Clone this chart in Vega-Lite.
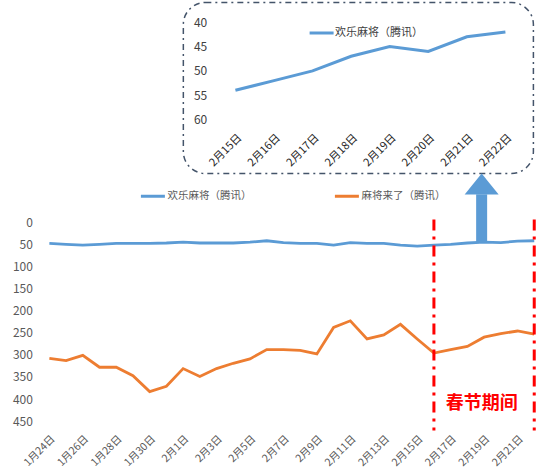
{
  "$schema": "https://vega.github.io/schema/vega-lite/v6.json",
  "padding": {"left": 12, "top": 1.5, "right": 0, "bottom": 0},
  "datasets": {
    "ranks": [
      {"date": "2018-01-24T00:00", "series": "欢乐麻将（腾讯）", "rank": 48},
      {"date": "2018-01-25T00:00", "series": "欢乐麻将（腾讯）", "rank": 50},
      {"date": "2018-01-26T00:00", "series": "欢乐麻将（腾讯）", "rank": 52},
      {"date": "2018-01-27T00:00", "series": "欢乐麻将（腾讯）", "rank": 50},
      {"date": "2018-01-28T00:00", "series": "欢乐麻将（腾讯）", "rank": 48},
      {"date": "2018-01-29T00:00", "series": "欢乐麻将（腾讯）", "rank": 48},
      {"date": "2018-01-30T00:00", "series": "欢乐麻将（腾讯）", "rank": 48},
      {"date": "2018-01-31T00:00", "series": "欢乐麻将（腾讯）", "rank": 47},
      {"date": "2018-02-01T00:00", "series": "欢乐麻将（腾讯）", "rank": 45},
      {"date": "2018-02-02T00:00", "series": "欢乐麻将（腾讯）", "rank": 47},
      {"date": "2018-02-03T00:00", "series": "欢乐麻将（腾讯）", "rank": 47},
      {"date": "2018-02-04T00:00", "series": "欢乐麻将（腾讯）", "rank": 47},
      {"date": "2018-02-05T00:00", "series": "欢乐麻将（腾讯）", "rank": 45},
      {"date": "2018-02-06T00:00", "series": "欢乐麻将（腾讯）", "rank": 42},
      {"date": "2018-02-07T00:00", "series": "欢乐麻将（腾讯）", "rank": 46},
      {"date": "2018-02-08T00:00", "series": "欢乐麻将（腾讯）", "rank": 48},
      {"date": "2018-02-09T00:00", "series": "欢乐麻将（腾讯）", "rank": 48},
      {"date": "2018-02-10T00:00", "series": "欢乐麻将（腾讯）", "rank": 52},
      {"date": "2018-02-11T00:00", "series": "欢乐麻将（腾讯）", "rank": 46},
      {"date": "2018-02-12T00:00", "series": "欢乐麻将（腾讯）", "rank": 48},
      {"date": "2018-02-13T00:00", "series": "欢乐麻将（腾讯）", "rank": 48},
      {"date": "2018-02-14T00:00", "series": "欢乐麻将（腾讯）", "rank": 52},
      {"date": "2018-02-15T00:00", "series": "欢乐麻将（腾讯）", "rank": 54},
      {"date": "2018-02-16T00:00", "series": "欢乐麻将（腾讯）", "rank": 52},
      {"date": "2018-02-17T00:00", "series": "欢乐麻将（腾讯）", "rank": 50},
      {"date": "2018-02-18T00:00", "series": "欢乐麻将（腾讯）", "rank": 47},
      {"date": "2018-02-19T00:00", "series": "欢乐麻将（腾讯）", "rank": 45},
      {"date": "2018-02-20T00:00", "series": "欢乐麻将（腾讯）", "rank": 46},
      {"date": "2018-02-21T00:00", "series": "欢乐麻将（腾讯）", "rank": 43},
      {"date": "2018-02-22T00:00", "series": "欢乐麻将（腾讯）", "rank": 42},
      {"date": "2018-01-24T00:00", "series": "麻将来了（腾讯）", "rank": 308},
      {"date": "2018-01-25T00:00", "series": "麻将来了（腾讯）", "rank": 313},
      {"date": "2018-01-26T00:00", "series": "麻将来了（腾讯）", "rank": 301},
      {"date": "2018-01-27T00:00", "series": "麻将来了（腾讯）", "rank": 328},
      {"date": "2018-01-28T00:00", "series": "麻将来了（腾讯）", "rank": 328},
      {"date": "2018-01-29T00:00", "series": "麻将来了（腾讯）", "rank": 347},
      {"date": "2018-01-30T00:00", "series": "麻将来了（腾讯）", "rank": 383},
      {"date": "2018-01-31T00:00", "series": "麻将来了（腾讯）", "rank": 371},
      {"date": "2018-02-01T00:00", "series": "麻将来了（腾讯）", "rank": 331},
      {"date": "2018-02-02T00:00", "series": "麻将来了（腾讯）", "rank": 349},
      {"date": "2018-02-03T00:00", "series": "麻将来了（腾讯）", "rank": 331},
      {"date": "2018-02-04T00:00", "series": "麻将来了（腾讯）", "rank": 319},
      {"date": "2018-02-05T00:00", "series": "麻将来了（腾讯）", "rank": 309},
      {"date": "2018-02-06T00:00", "series": "麻将来了（腾讯）", "rank": 288},
      {"date": "2018-02-07T00:00", "series": "麻将来了（腾讯）", "rank": 288},
      {"date": "2018-02-08T00:00", "series": "麻将来了（腾讯）", "rank": 290},
      {"date": "2018-02-09T00:00", "series": "麻将来了（腾讯）", "rank": 298},
      {"date": "2018-02-10T00:00", "series": "麻将来了（腾讯）", "rank": 238},
      {"date": "2018-02-11T00:00", "series": "麻将来了（腾讯）", "rank": 223},
      {"date": "2018-02-12T00:00", "series": "麻将来了（腾讯）", "rank": 264},
      {"date": "2018-02-13T00:00", "series": "麻将来了（腾讯）", "rank": 255},
      {"date": "2018-02-14T00:00", "series": "麻将来了（腾讯）", "rank": 231},
      {"date": "2018-02-15T00:00", "series": "麻将来了（腾讯）", "rank": 264},
      {"date": "2018-02-16T00:00", "series": "麻将来了（腾讯）", "rank": 296},
      {"date": "2018-02-17T00:00", "series": "麻将来了（腾讯）", "rank": 288},
      {"date": "2018-02-18T00:00", "series": "麻将来了（腾讯）", "rank": 281},
      {"date": "2018-02-19T00:00", "series": "麻将来了（腾讯）", "rank": 260},
      {"date": "2018-02-20T00:00", "series": "麻将来了（腾讯）", "rank": 252},
      {"date": "2018-02-21T00:00", "series": "麻将来了（腾讯）", "rank": 246},
      {"date": "2018-02-22T00:00", "series": "麻将来了（腾讯）", "rank": 253}
    ],
    "inset": [
      {"date": "2018-02-15T00:00", "series": "欢乐麻将（腾讯）", "rank": 54},
      {"date": "2018-02-16T00:00", "series": "欢乐麻将（腾讯）", "rank": 52},
      {"date": "2018-02-17T00:00", "series": "欢乐麻将（腾讯）", "rank": 50},
      {"date": "2018-02-18T00:00", "series": "欢乐麻将（腾讯）", "rank": 47},
      {"date": "2018-02-19T00:00", "series": "欢乐麻将（腾讯）", "rank": 45},
      {"date": "2018-02-20T00:00", "series": "欢乐麻将（腾讯）", "rank": 46},
      {"date": "2018-02-21T00:00", "series": "欢乐麻将（腾讯）", "rank": 43},
      {"date": "2018-02-22T00:00", "series": "欢乐麻将（腾讯）", "rank": 42}
    ],
    "holiday": [
      {"date": "2018-02-16T00:00"},
      {"date": "2018-02-22T00:00"}
    ]
  },
  "vconcat": [
    {
      "width": 492.4,
      "height": 171,
      "layer": [
        {
          "data": {"values": [{}]},
          "mark": {
            "type": "rect",
            "fill": "white",
            "stroke": "#44546a",
            "strokeWidth": 1.5,
            "strokeDash": [6, 4, 2, 4],
            "cornerRadius": 22
          },
          "encoding": {
            "x": {"datum": {"year": 2018, "month": 2, "date": 13, "hours": 15, "minutes": 36}, "type": "temporal"},
            "x2": {"datum": {"year": 2018, "month": 2, "date": 22, "hours": 17, "minutes": 25}}
          }
        },
        {
          "data": {"name": "inset"},
          "mark": {"type": "line", "strokeWidth": 3},
          "encoding": {
            "x": {
              "field": "date",
              "type": "temporal",
              "scale": {
                "domain": [
                  {"year": 2018, "month": 2, "date": 9, "hours": 23, "minutes": 2},
                  {"year": 2018, "month": 2, "date": 22, "hours": 17, "minutes": 25}
                ],
                "nice": false
              },
              "axis": {
                "title": null,
                "format": "%-m月%-d日",
                "values": [
                  {"year": 2018, "month": 2, "date": 15},
                  {"year": 2018, "month": 2, "date": 16},
                  {"year": 2018, "month": 2, "date": 17},
                  {"year": 2018, "month": 2, "date": 18},
                  {"year": 2018, "month": 2, "date": 19},
                  {"year": 2018, "month": 2, "date": 20},
                  {"year": 2018, "month": 2, "date": 21},
                  {"year": 2018, "month": 2, "date": 22}
                ],
                "labelAngle": -45,
                "labelFontSize": 11,
                "labelColor": "#262626",
                "labelPadding": 0,
                "ticks": false,
                "domain": false,
                "grid": false,
                "offset": -42,
                "zindex": 2
              }
            },
            "y": {
              "field": "rank",
              "type": "quantitative",
              "scale": {"domain": [35.95, 71.1], "reverse": true, "nice": false, "zero": false},
              "axis": {
                "title": null,
                "values": [40, 45, 50, 55, 60],
                "grid": false,
                "domain": false,
                "ticks": false,
                "labelAlign": "left",
                "labelPadding": 0,
                "offset": -152.4,
                "labelFontSize": 12,
                "labelColor": "#404040",
                "zindex": 2
              }
            },
            "color": {
              "field": "series",
              "type": "nominal",
              "scale": {"domain": ["欢乐麻将（腾讯）"], "range": ["#5b9bd5"]},
              "legend": {
                "title": null,
                "orient": "none",
                "legendX": 267.1,
                "legendY": 17,
                "symbolType": "stroke",
                "symbolSize": 576,
                "symbolStrokeWidth": 3,
                "labelOffset": 0,
                "labelFontSize": 11,
                "labelColor": "#404040"
              }
            }
          }
        }
      ]
    },
    {
      "width": 501.6,
      "height": 211,
      "layer": [
        {
          "data": {"name": "ranks"},
          "mark": {"type": "line", "strokeWidth": 2.8},
          "encoding": {
            "x": {
              "field": "date",
              "type": "temporal",
              "scale": {
                "domain": [
                  {"year": 2018, "month": 1, "date": 23, "hours": 12},
                  {"year": 2018, "month": 2, "date": 22, "hours": 12}
                ],
                "nice": false
              },
              "axis": {
                "title": null,
                "format": "%-m月%-d日",
                "values": [
                  {"year": 2018, "month": 1, "date": 24},
                  {"year": 2018, "month": 1, "date": 26},
                  {"year": 2018, "month": 1, "date": 28},
                  {"year": 2018, "month": 1, "date": 30},
                  {"year": 2018, "month": 2, "date": 1},
                  {"year": 2018, "month": 2, "date": 3},
                  {"year": 2018, "month": 2, "date": 5},
                  {"year": 2018, "month": 2, "date": 7},
                  {"year": 2018, "month": 2, "date": 9},
                  {"year": 2018, "month": 2, "date": 11},
                  {"year": 2018, "month": 2, "date": 13},
                  {"year": 2018, "month": 2, "date": 15},
                  {"year": 2018, "month": 2, "date": 17},
                  {"year": 2018, "month": 2, "date": 19},
                  {"year": 2018, "month": 2, "date": 21}
                ],
                "labelAngle": -45,
                "labelFontSize": 10.5,
                "labelColor": "#595959",
                "labelPadding": 3,
                "ticks": false,
                "domain": false,
                "grid": false
              }
            },
            "y": {
              "field": "rank",
              "type": "quantitative",
              "scale": {"domain": [-6.1, 471], "reverse": true, "nice": false, "zero": false},
              "axis": {
                "title": null,
                "values": [0, 50, 100, 150, 200, 250, 300, 350, 400, 450],
                "grid": false,
                "domain": false,
                "ticks": false,
                "labelPadding": 8.6,
                "labelFontSize": 12,
                "labelColor": "#595959"
              }
            },
            "color": {
              "field": "series",
              "type": "nominal",
              "scale": {"domain": ["欢乐麻将（腾讯）", "麻将来了（腾讯）"], "range": ["#5b9bd5", "#ed7d31"]},
              "legend": {
                "title": null,
                "orient": "none",
                "direction": "horizontal",
                "legendX": 98.4,
                "legendY": -37,
                "symbolType": "stroke",
                "symbolSize": 576,
                "symbolStrokeWidth": 3,
                "labelOffset": 1,
                "labelFontSize": 10.5,
                "labelColor": "#595959",
                "columnPadding": 77
              }
            }
          }
        },
        {
          "data": {"name": "holiday"},
          "mark": {"type": "rule", "color": "#ff0000", "strokeWidth": 3, "strokeDash": [11, 6, 3, 6], "clip": false},
          "encoding": {
            "x": {
              "field": "date",
              "type": "temporal",
              "axis": {
                "title": null,
                "format": "%-m月%-d日",
                "values": [
                  {"year": 2018, "month": 1, "date": 24},
                  {"year": 2018, "month": 1, "date": 26},
                  {"year": 2018, "month": 1, "date": 28},
                  {"year": 2018, "month": 1, "date": 30},
                  {"year": 2018, "month": 2, "date": 1},
                  {"year": 2018, "month": 2, "date": 3},
                  {"year": 2018, "month": 2, "date": 5},
                  {"year": 2018, "month": 2, "date": 7},
                  {"year": 2018, "month": 2, "date": 9},
                  {"year": 2018, "month": 2, "date": 11},
                  {"year": 2018, "month": 2, "date": 13},
                  {"year": 2018, "month": 2, "date": 15},
                  {"year": 2018, "month": 2, "date": 17},
                  {"year": 2018, "month": 2, "date": 19},
                  {"year": 2018, "month": 2, "date": 21}
                ],
                "labelAngle": -45,
                "labelFontSize": 10.5,
                "labelColor": "#595959",
                "labelPadding": 3,
                "ticks": false,
                "domain": false,
                "grid": false
              }
            }
          }
        },
        {
          "data": {"values": [{}]},
          "mark": {"type": "rule", "color": "#5b9bd5", "strokeWidth": 11, "clip": false},
          "encoding": {
            "x": {
              "datum": {"year": 2018, "month": 2, "date": 18, "hours": 20, "minutes": 30},
              "type": "temporal",
              "axis": {
                "title": null,
                "format": "%-m月%-d日",
                "values": [
                  {"year": 2018, "month": 1, "date": 24},
                  {"year": 2018, "month": 1, "date": 26},
                  {"year": 2018, "month": 1, "date": 28},
                  {"year": 2018, "month": 1, "date": 30},
                  {"year": 2018, "month": 2, "date": 1},
                  {"year": 2018, "month": 2, "date": 3},
                  {"year": 2018, "month": 2, "date": 5},
                  {"year": 2018, "month": 2, "date": 7},
                  {"year": 2018, "month": 2, "date": 9},
                  {"year": 2018, "month": 2, "date": 11},
                  {"year": 2018, "month": 2, "date": 13},
                  {"year": 2018, "month": 2, "date": 15},
                  {"year": 2018, "month": 2, "date": 17},
                  {"year": 2018, "month": 2, "date": 19},
                  {"year": 2018, "month": 2, "date": 21}
                ],
                "labelAngle": -45,
                "labelFontSize": 10.5,
                "labelColor": "#595959",
                "labelPadding": 3,
                "ticks": false,
                "domain": false,
                "grid": false
              }
            },
            "y": {
              "datum": -63,
              "type": "quantitative",
              "axis": {
                "title": null,
                "values": [0, 50, 100, 150, 200, 250, 300, 350, 400, 450],
                "grid": false,
                "domain": false,
                "ticks": false,
                "labelPadding": 8.6,
                "labelFontSize": 12,
                "labelColor": "#595959"
              }
            },
            "y2": {"datum": 46}
          }
        },
        {
          "data": {"values": [{}]},
          "mark": {"type": "point", "shape": "M-1,0L1,0L0,-1.235Z", "size": 1156, "filled": true, "opacity": 1, "color": "#5b9bd5", "clip": false},
          "encoding": {
            "x": {
              "datum": {"year": 2018, "month": 2, "date": 18, "hours": 20, "minutes": 30},
              "type": "temporal",
              "axis": {
                "title": null,
                "format": "%-m月%-d日",
                "values": [
                  {"year": 2018, "month": 1, "date": 24},
                  {"year": 2018, "month": 1, "date": 26},
                  {"year": 2018, "month": 1, "date": 28},
                  {"year": 2018, "month": 1, "date": 30},
                  {"year": 2018, "month": 2, "date": 1},
                  {"year": 2018, "month": 2, "date": 3},
                  {"year": 2018, "month": 2, "date": 5},
                  {"year": 2018, "month": 2, "date": 7},
                  {"year": 2018, "month": 2, "date": 9},
                  {"year": 2018, "month": 2, "date": 11},
                  {"year": 2018, "month": 2, "date": 13},
                  {"year": 2018, "month": 2, "date": 15},
                  {"year": 2018, "month": 2, "date": 17},
                  {"year": 2018, "month": 2, "date": 19},
                  {"year": 2018, "month": 2, "date": 21}
                ],
                "labelAngle": -45,
                "labelFontSize": 10.5,
                "labelColor": "#595959",
                "labelPadding": 3,
                "ticks": false,
                "domain": false,
                "grid": false
              }
            },
            "y": {
              "datum": -62.5,
              "type": "quantitative",
              "axis": {
                "title": null,
                "values": [0, 50, 100, 150, 200, 250, 300, 350, 400, 450],
                "grid": false,
                "domain": false,
                "ticks": false,
                "labelPadding": 8.6,
                "labelFontSize": 12,
                "labelColor": "#595959"
              }
            }
          }
        },
        {
          "data": {"values": [{}]},
          "mark": {"type": "text", "text": "春节期间", "color": "#ff0000", "fontSize": 18, "fontWeight": "bold"},
          "encoding": {
            "x": {
              "datum": {"year": 2018, "month": 2, "date": 18, "hours": 20, "minutes": 30},
              "type": "temporal",
              "axis": {
                "title": null,
                "format": "%-m月%-d日",
                "values": [
                  {"year": 2018, "month": 1, "date": 24},
                  {"year": 2018, "month": 1, "date": 26},
                  {"year": 2018, "month": 1, "date": 28},
                  {"year": 2018, "month": 1, "date": 30},
                  {"year": 2018, "month": 2, "date": 1},
                  {"year": 2018, "month": 2, "date": 3},
                  {"year": 2018, "month": 2, "date": 5},
                  {"year": 2018, "month": 2, "date": 7},
                  {"year": 2018, "month": 2, "date": 9},
                  {"year": 2018, "month": 2, "date": 11},
                  {"year": 2018, "month": 2, "date": 13},
                  {"year": 2018, "month": 2, "date": 15},
                  {"year": 2018, "month": 2, "date": 17},
                  {"year": 2018, "month": 2, "date": 19},
                  {"year": 2018, "month": 2, "date": 21}
                ],
                "labelAngle": -45,
                "labelFontSize": 10.5,
                "labelColor": "#595959",
                "labelPadding": 3,
                "ticks": false,
                "domain": false,
                "grid": false
              }
            },
            "y": {
              "datum": 412,
              "type": "quantitative",
              "axis": {
                "title": null,
                "values": [0, 50, 100, 150, 200, 250, 300, 350, 400, 450],
                "grid": false,
                "domain": false,
                "ticks": false,
                "labelPadding": 8.6,
                "labelFontSize": 12,
                "labelColor": "#595959"
              }
            }
          }
        }
      ]
    }
  ],
  "spacing": 46,
  "bounds": "flush",
  "resolve": {"scale": {"color": "independent"}, "legend": {"color": "independent"}},
  "config": {
    "font": "Noto Sans CJK SC",
    "view": {"stroke": null},
    "background": "white",
    "axis": {"labelOverlap": false, "labelFlush": false}
  }
}
